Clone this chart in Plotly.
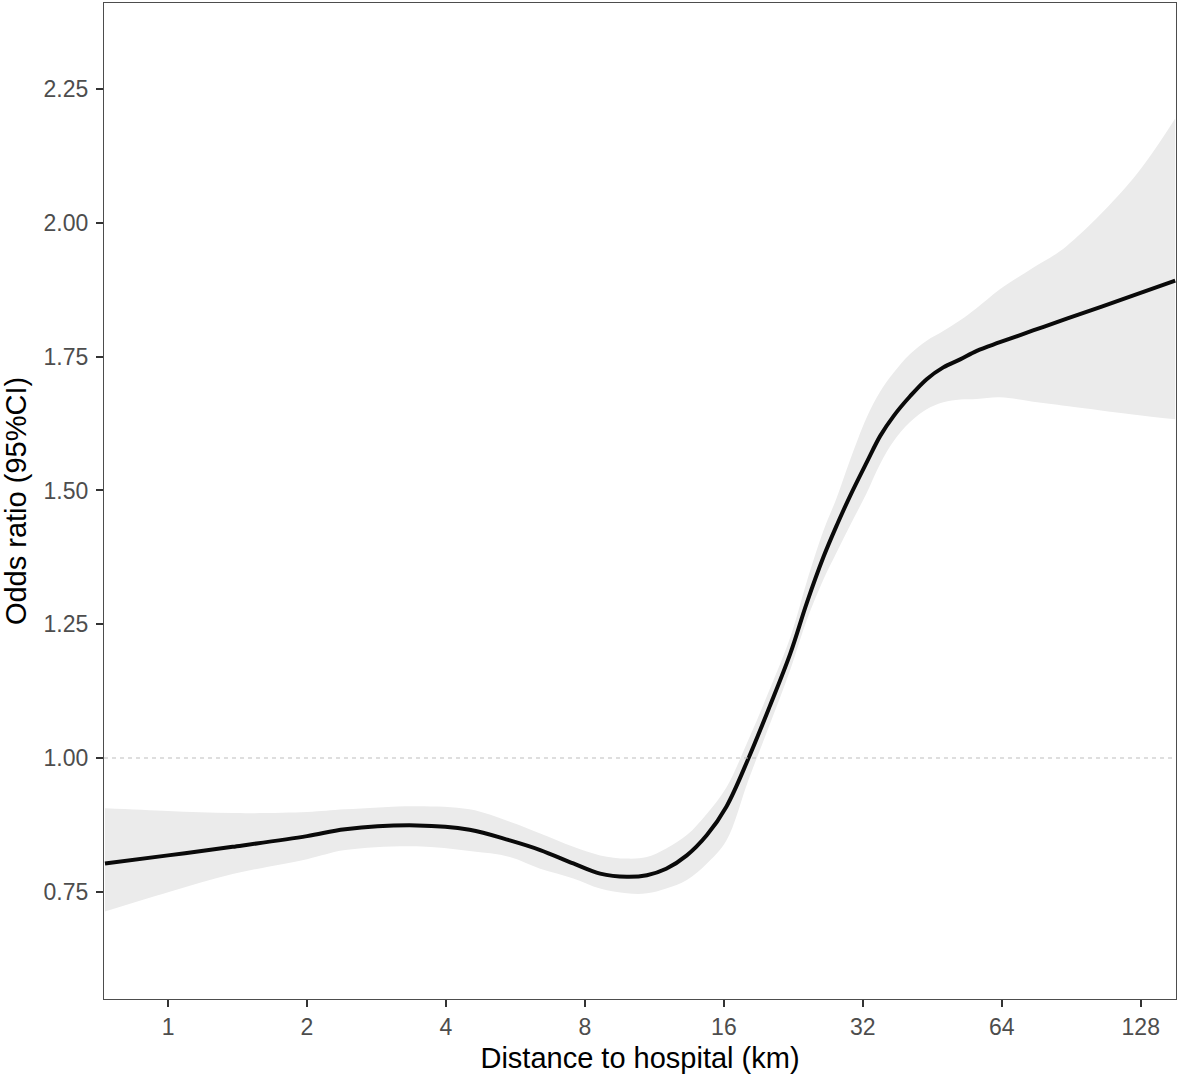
import math
import plotly.graph_objects as go

# Data
distance_km = [0.73, 1.0, 1.38, 2.0, 2.42, 3.46, 4.5, 5.5, 6.4, 7.55, 8.63, 9.86, 10.9, 12.0,
               13.3, 14.7, 16.2, 18.1, 20.1, 22.3, 24.2, 26.3, 28.1, 30.0, 32.6, 34.9, 37.3,
               40.5, 44.0, 47.8, 52.0, 56.5, 63.4, 74.8, 88.5, 123, 152]
odds_ratio = [0.803, 0.818, 0.834, 0.854, 0.867, 0.874, 0.866, 0.846, 0.828, 0.803, 0.784, 0.778,
              0.781, 0.793, 0.818, 0.856, 0.909, 1.000, 1.096, 1.196, 1.290, 1.376, 1.435, 1.489,
              1.552, 1.602, 1.639, 1.676, 1.708, 1.730, 1.745, 1.761, 1.777, 1.799, 1.821, 1.864, 1.892]
ci_upper = [0.906, 0.901, 0.897, 0.899, 0.904, 0.910, 0.904, 0.881, 0.859, 0.834, 0.818, 0.812,
            0.815, 0.831, 0.856, 0.896, 0.945, 1.035, 1.128, 1.226, 1.330, 1.425, 1.487, 1.556,
            1.636, 1.685, 1.720, 1.755, 1.780, 1.798, 1.818, 1.841, 1.876, 1.916, 1.957, 2.082, 2.195]
ci_lower = [0.713, 0.749, 0.783, 0.811, 0.828, 0.835, 0.826, 0.815, 0.793, 0.775, 0.756, 0.747,
            0.747, 0.756, 0.772, 0.803, 0.846, 0.960, 1.062, 1.166, 1.258, 1.334, 1.385, 1.434,
            1.495, 1.550, 1.592, 1.628, 1.652, 1.665, 1.670, 1.671, 1.674, 1.666, 1.658, 1.642, 1.633]

x_ticks = [1, 2, 4, 8, 16, 32, 64, 128]
x_tick_labels = ["1", "2", "4", "8", "16", "32", "64", "128"]
y_ticks = [0.75, 1.00, 1.25, 1.50, 1.75, 2.00, 2.25]
y_tick_labels = ["0.75", "1.00", "1.25", "1.50", "1.75", "2.00", "2.25"]
REFERENCE_OR = 1.0

x_range = [0.7265, 152.6]
y_range = [0.5496, 2.411]

FONT = "Liberation Sans, Arial, Helvetica, sans-serif"
SMOOTH = 1.0

fig = go.Figure()
fig.add_trace(go.Scatter(x=distance_km, y=ci_upper, mode="lines",
                         line=dict(width=0, shape="spline", smoothing=SMOOTH),
                         showlegend=False, hoverinfo="skip"))
fig.add_trace(go.Scatter(x=distance_km, y=ci_lower, mode="lines",
                         line=dict(width=0, shape="spline", smoothing=SMOOTH),
                         fill="tonexty", fillcolor="#EBEBEB",
                         showlegend=False, hoverinfo="skip"))
fig.add_hline(y=REFERENCE_OR, line=dict(color="#BDBDBD", width=1.2, dash="4px,4px"), layer="above")
fig.add_trace(go.Scatter(x=distance_km, y=odds_ratio, mode="lines",
                         line=dict(color="#0A0A0A", width=4, shape="spline", smoothing=SMOOTH),
                         showlegend=False))

axis_common = dict(showgrid=False, zeroline=False, showline=True, mirror=True,
                   linecolor="#4D4D4D", linewidth=1.3,
                   ticks="outside", ticklen=7, tickwidth=2, tickcolor="#333333",
                   tickfont=dict(family=FONT, size=23, color="#4D4D4D"))

fig.update_xaxes(type="log", range=[math.log10(x_range[0]), math.log10(x_range[1])],
                 tickvals=x_ticks, ticktext=x_tick_labels,
                 title=dict(text="Distance to hospital (km)",
                            font=dict(family=FONT, size=29, color="#000000"), standoff=8),
                 **axis_common)
fig.update_yaxes(range=y_range, tickvals=y_ticks, ticktext=y_tick_labels,
                 ticklabelstandoff=3,
                 title=dict(text="Odds ratio (95%CI)",
                            font=dict(family=FONT, size=29, color="#000000"), standoff=12),
                 **axis_common)

fig.update_layout(width=1181, height=1079,
                  margin=dict(l=104, r=5, t=3, b=80),
                  paper_bgcolor="white", plot_bgcolor="white",
                  showlegend=False)

fig.write_html("out.html", config={"displayModeBar": False},
               post_script="document.body.style.margin='0';")
